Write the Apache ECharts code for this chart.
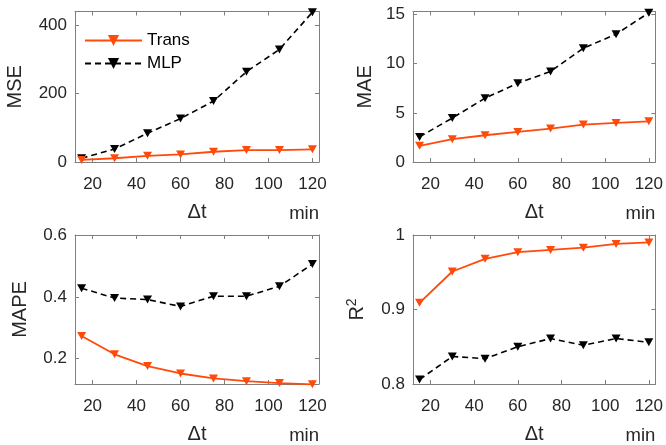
<!DOCTYPE html>
<html>
<head>
<meta charset="utf-8">
<script src="https://cdn.jsdelivr.net/npm/echarts@6/dist/echarts.min.js"></script>
<style>html,body{margin:0;padding:0;background:#fff}#c{width:666px;height:445px}</style>
</head>
<body>
<div id="c"></div>
<script>
// ---- data ----
const dt = [15, 30, 45, 60, 75, 90, 105, 120];
const xTicks = [20, 40, 60, 80, 100, 120];
const seriesNames = ['Trans', 'MLP'];

const mseTrans = [6, 11, 18, 22, 30, 35, 35, 37];
const mseMLP   = [11, 38, 84, 127, 178, 264, 329, 438];
const mseTicks = [0, 200, 400];

const maeTrans = [1.65, 2.32, 2.72, 3.06, 3.40, 3.80, 3.97, 4.14];
const maeMLP   = [2.55, 4.47, 6.49, 8.00, 9.21, 11.57, 12.99, 15.17];
const maeTicks = [0, 5, 10, 15];

const mapeTrans = [0.273, 0.214, 0.176, 0.152, 0.136, 0.127, 0.121, 0.117];
const mapeMLP   = [0.428, 0.396, 0.391, 0.369, 0.402, 0.402, 0.434, 0.506];
const mapeTicks = [0.2, 0.4, 0.6];

const r2Trans = [0.909, 0.951, 0.968, 0.977, 0.980, 0.983, 0.988, 0.990];
const r2MLP   = [0.806, 0.837, 0.834, 0.850, 0.861, 0.852, 0.861, 0.856];
const r2Ticks = [0.8, 0.9, 1];

// ---- layout / style ----
const FONT = "'Liberation Sans', Arial, Helvetica, sans-serif";
const AX = '#7f7f7f';
const TXT = '#262626';
const ORANGE = '#ff4a0a';
const TRI = 'path://M0,0 L2,0 L1,1.8 Z';

const panels = [
  {left: 75,  top: 11.5, w: 244, h: 150.5, yMin: 0,     yMax: 440,  yTicks: mseTicks,  name: 'MSE',  gap: 50, a: mseTrans,  b: mseMLP},
  {left: 413, top: 11.5, w: 244, h: 150.5, yMin: 0,     yMax: 15.3, yTicks: maeTicks,  name: 'MAE',  gap: 38, a: maeTrans,  b: maeMLP},
  {left: 75,  top: 235,  w: 244, h: 149.5, yMin: 0.118, yMax: 0.6,  yTicks: mapeTicks, name: 'MAPE', gap: 45, a: mapeTrans, b: mapeMLP},
  {left: 413, top: 235,  w: 244, h: 149.5, yMin: 0.8,   yMax: 1,    yTicks: r2Ticks,   name: '{r|R}{s|2}', gap: 44, a: r2Trans, b: r2MLP}
];

const grid = [], xAxis = [], yAxis = [], series = [];
panels.forEach((p, i) => {
  grid.push({left: p.left, top: p.top, width: p.w, height: p.h, containLabel: false});
  const base = {
    gridIndex: i, type: 'value', min: 12, max: 123,
    splitLine: {show: false},
    axisLine: {show: true, onZero: false, lineStyle: {color: AX, width: 1}}
  };
  xAxis.push(Object.assign({}, base, {
    position: 'bottom',
    name: 'Δt', nameLocation: 'middle', nameGap: 40,
    nameTextStyle: {fontFamily: FONT, fontSize: 20, color: TXT},
    axisTick: {show: true, inside: true, length: 4, customValues: xTicks, lineStyle: {color: AX}},
    axisLabel: {show: true, margin: 14, customValues: xTicks, fontFamily: FONT, fontSize: 17, color: TXT}
  }));
  xAxis.push(Object.assign({}, base, {
    position: 'top',
    axisTick: {show: true, inside: true, length: 4, customValues: xTicks, lineStyle: {color: AX}},
    axisLabel: {show: false}
  }));
  xAxis.push(Object.assign({}, base, {
    position: 'bottom',
    axisLine: {show: false}, axisTick: {show: false}, axisLabel: {show: false},
    name: 'min', nameLocation: 'end', nameGap: 0,
    nameTextStyle: {fontFamily: FONT, fontSize: 18.5, color: TXT, align: 'right', verticalAlign: 'top', padding: [42, 0, 0, 0]}
  }));
  const ybase = {
    gridIndex: i, type: 'value', min: p.yMin, max: p.yMax,
    splitLine: {show: false},
    axisLine: {show: true, onZero: false, lineStyle: {color: AX, width: 1}}
  };
  yAxis.push(Object.assign({}, ybase, {
    position: 'left',
    name: p.name, nameLocation: 'middle', nameGap: p.gap,
    nameTextStyle: {fontFamily: FONT, fontSize: 20, color: TXT,
      rich: {r: {fontFamily: FONT, fontSize: 20, color: TXT}, s: {fontFamily: FONT, fontSize: 14, color: TXT, verticalAlign: 'top', padding: [0, 0, 10, 0]}}},
    axisTick: {show: true, inside: true, length: 4, customValues: p.yTicks, lineStyle: {color: AX}},
    axisLabel: {show: true, margin: 8, customValues: p.yTicks, fontFamily: FONT, fontSize: 17, color: TXT}
  }));
  yAxis.push(Object.assign({}, ybase, {
    position: 'right',
    axisTick: {show: true, inside: true, length: 4, customValues: p.yTicks, lineStyle: {color: AX}},
    axisLabel: {show: false}
  }));
  series.push({
    name: seriesNames[0], type: 'line', xAxisIndex: i * 3, yAxisIndex: i * 2,
    data: dt.map((x, k) => [x, p.a[k]]),
    symbol: TRI, symbolSize: [9, 8], showAllSymbol: true, clip: false,
    lineStyle: {color: ORANGE, width: 1.8}, itemStyle: {color: ORANGE},
    z: 3, animation: false
  });
  series.push({
    name: seriesNames[1], type: 'line', xAxisIndex: i * 3, yAxisIndex: i * 2,
    data: dt.map((x, k) => [x, p.b[k]]),
    symbol: TRI, symbolSize: [9, 8], showAllSymbol: true, clip: false,
    lineStyle: {color: '#000', width: 1.6, type: [6, 4]}, itemStyle: {color: '#000'},
    z: 2, animation: false
  });
});

const chart = echarts.init(document.getElementById('c'), null, {renderer: 'canvas'});
chart.setOption({
  animation: false,
  backgroundColor: '#fff',
  textStyle: {fontFamily: FONT},
  legend: {
    data: seriesNames, orient: 'vertical', left: 79, top: 27,
    itemWidth: 57, itemHeight: 14, itemGap: 6,
    textStyle: {fontFamily: FONT, fontSize: 17, color: '#000', lineHeight: 14}
  },
  grid, xAxis, yAxis, series
});
</script>
</body>
</html>
